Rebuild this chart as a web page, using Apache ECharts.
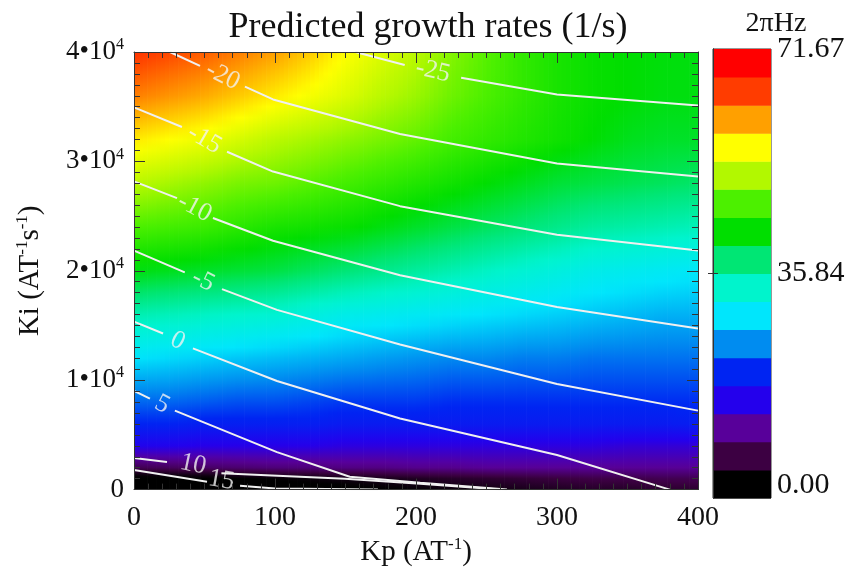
<!DOCTYPE html>
<html>
<head>
<meta charset="utf-8">
<script src="https://cdn.jsdelivr.net/npm/echarts@6/dist/echarts.min.js"></script>
<style>
  html, body { margin: 0; padding: 0; background: #ffffff; }
  #chart { width: 848px; height: 572px; }
</style>
</head>
<body>
<div id="chart"></div>
<script>
// ---- sample grid of the frequency map (2πHz) ----
const kpValues = [0, 25, 50, 75, 100, 125, 150, 175, 200, 225, 250, 275, 300, 325, 350, 375, 400];
const kiValues = [0, 1000, 2000, 4000, 6000, 8000, 12000, 16000, 20000, 24000, 28000, 32000, 36000, 40000];

// one row per Ki value, listed along kpValues
const freqKi0     = [0, 0, 0, 0, 0.5, 1, 1.5, 2, 2.5, 3, 3.5, 4, 4.5, 5, 5, 5.5, 5.5];
const freqKi1000  = [1, 1, 1.5, 2, 2.5, 3, 3.5, 4, 4.5, 5, 5.5, 6, 6.5, 7, 7, 7.5, 7.5];
const freqKi2000  = [7.5, 8, 8.5, 9, 9.5, 9.5, 10, 10, 10.5, 10.5, 11, 11, 11, 11, 11, 11, 11];
const freqKi4000  = [16, 16, 15.5, 15.5, 15.5, 15.5, 15, 15, 15, 15, 15, 15, 15, 15, 14.5, 14.5, 14.5];
const freqKi6000  = [20, 20, 19.5, 19.5, 19.5, 19.5, 19, 19, 19, 19, 19, 19, 19, 19, 19, 19, 19.5];
const freqKi8000  = [23, 23, 22.5, 22, 22, 21.5, 21, 21, 21, 20.5, 20.5, 20.5, 20.5, 20.5, 20.5, 20.5, 20.5];
const freqKi12000 = [29, 28.5, 28, 27.5, 27, 26.5, 26, 25.5, 25, 24.5, 24.5, 24, 24, 23.5, 23.5, 23.5, 23.5];
const freqKi16000 = [35, 34.5, 34, 33.5, 33, 32, 31, 30.5, 30, 29.5, 29, 28.5, 28, 27.5, 27, 26.5, 26.5];
const freqKi20000 = [42, 41.5, 41, 40.5, 40, 39, 38, 37, 36, 35, 34, 33, 32, 31, 30.5, 30, 29.5];
const freqKi24000 = [47, 46.5, 46, 45, 44, 43.5, 43, 42, 41, 40, 39, 38, 37, 36, 35.5, 35, 34.5];
const freqKi28000 = [52, 51, 50, 49, 48.5, 47.5, 46.5, 45.5, 44.5, 43.5, 42.5, 41.5, 40.5, 40, 39.5, 39, 38.5];
const freqKi32000 = [57, 56, 55, 53.5, 52, 51, 50, 49, 48, 46.5, 45.5, 44.5, 43.5, 42.5, 41.5, 41, 41];
const freqKi36000 = [62, 61, 60, 58.5, 57, 55.5, 54, 52, 50.5, 48.5, 47, 45.5, 44, 43, 42.5, 42, 42];
const freqKi40000 = [65.5, 64.5, 63.5, 62, 60.5, 58.5, 56, 54, 52, 49.5, 47.5, 45.5, 44, 43, 42.5, 42.2, 42];
const freqRows = [freqKi0, freqKi1000, freqKi2000, freqKi4000, freqKi6000, freqKi8000, freqKi12000, freqKi16000,
                  freqKi20000, freqKi24000, freqKi28000, freqKi32000, freqKi36000, freqKi40000];

// ---- growth-rate contours (1/s): [Kp, Ki] vertices, split where the label sits ----
const contourLevels = [-25, -20, -15, -10, -5, 0, 5, 10, 15];
const contourM25 = [[[157, 40000], [192, 38820]], [[232, 37650], [300, 36120], [400, 35110]]];
const contourM20 = [[[25.5, 40000], [46.8, 38735]], [[78.7, 36840], [98.6, 35665], [188.7, 32500], [300, 29800], [400, 28620]]];
const contourM15 = [[[0, 34940], [34, 33140]], [[66, 30880], [98.6, 29070], [188.7, 25910], [300, 23290], [400, 21850]]];
const contourM10 = [[[0, 28170], [30.5, 26640]], [[56, 24830], [98.6, 22750], [188.7, 19590], [300, 16700], [400, 14720]]];
const contourM5  = [[[0, 21850], [36, 19860]], [[62.4, 18330], [101.4, 16430], [188.7, 13270], [300, 9660], [400, 7220]]];
const contour0   = [[[0, 15350], [20.6, 14270]], [[41.8, 12910], [101.4, 9930], [188.7, 6500], [300, 3160], [380, 0]]];
const contour5   = [[[0, 9030], [11.3, 8310]], [[29, 7220], [101.4, 3430], [153, 1170], [203, 630], [264.5, 0]]];
const contour10  = [[[0, 2890], [23.4, 2530]], [[62, 1500], [149.6, 990], [203, 540], [259.6, 0]]];
const contour15  = [[[0, 1800], [51.8, 720]], [[75.2, 360], [100, 90], [173, 0]]];
const contourPaths = [contourM25, contourM20, contourM15, contourM10, contourM5, contour0, contour5, contour10, contour15];
// where each level's label is written, and its tilt along the line
const contourLabelAt = [[212, 38250], [63, 37800], [50, 32000], [43, 25750], [49, 19100], [31, 13600], [20, 7800], [42, 2300], [62, 850]];
const contourLabelTilt = [-13, -27, -30, -28, -26, -27, -27, -12, -10];

// ---- axis ticks ----
const kpTicks = [0, 100, 200, 300, 400];
const kiTicks = [0, 10000, 20000, 30000, 40000];
const colorbarTicks = [0, 35.84, 71.67];
const freqMax = 71.67;

// 16-level rainbow palette shown on the colour bar (black -> red)
const bandColors = ['#000000', '#3c0042', '#58009a', '#2400ec', '#0024f2', '#008cf0', '#00e6fc', '#00f4cc',
                    '#00e674', '#00de00', '#4cf000', '#b2f800', '#ffff00', '#ffa000', '#ff3c00', '#ff0000'];
const bandEdges = [0, 4.48, 8.96, 13.44, 17.92, 22.40, 26.88, 31.36, 35.84, 40.31, 44.79, 49.27, 53.75, 58.23, 62.71, 67.19, 71.67];

const FONT = 'Liberation Serif';
const INK = '#111111';

// continuous version of the palette, each level's colour at the middle of its band
function freqColor(v) {
  const n = bandColors.length;
  const step = freqMax / n;
  let t = (v / step - 0.5) / (n - 1);
  t = Math.max(0, Math.min(1, t));
  return echarts.color.lerp(t, bandColors);
}

const chart = echarts.init(document.getElementById('chart'), null, { renderer: 'canvas' });

const axisLineStyle = { color: '#333333', width: 1 };
function frameAxis(extra) {
  return Object.assign({
    type: 'value',
    z: 10,
    axisLine: { show: true, onZero: false, lineStyle: axisLineStyle },
    axisTick: { show: true, inside: true, length: 11, lineStyle: axisLineStyle },
    minorTick: { show: true, splitNumber: 10, length: 6, lineStyle: axisLineStyle },
    splitLine: { show: false },
    minorSplitLine: { show: false }
  }, extra);
}

const superRich = {
  n: { fontFamily: FONT, fontSize: 29, color: INK, lineHeight: 32 },
  s: { fontFamily: FONT, fontSize: 17, color: INK, lineHeight: 17, verticalAlign: 'top' }
};
const tickRich = {
  n: { fontFamily: FONT, fontSize: 27, color: INK, lineHeight: 30 },
  s: { fontFamily: FONT, fontSize: 16, color: INK, lineHeight: 16, verticalAlign: 'top' }
};

// smooth shading of the frequency table: each cell between two Kp samples is laid
// down as thin vertical slivers with a gradient running along Ki
const SLIVERS = 8;
const SUBSTEPS = 4;
const fieldSeries = {
  type: 'custom',
  xAxisIndex: 0,
  yAxisIndex: 0,
  silent: true,
  clip: true,
  z: 1,
  data: kpValues.slice(0, -1).map((kp, i) => [kp, kpValues[i + 1]]),
  encode: { x: [0, 1] },
  renderItem(params, api) {
    const i = params.dataIndex;
    const kiTop = kiValues[kiValues.length - 1];
    const kiBot = kiValues[0];
    const yTop = api.coord([0, kiTop])[1];
    const yBot = api.coord([0, kiBot])[1];
    const h = yBot - yTop;
    const children = [];
    for (let s = 0; s < SLIVERS; s++) {
      const f0 = s / SLIVERS, f1 = (s + 1) / SLIVERS, fm = (f0 + f1) / 2;
      const xA = api.coord([kpValues[i] + f0 * (kpValues[i + 1] - kpValues[i]), kiBot])[0];
      const xB = api.coord([kpValues[i] + f1 * (kpValues[i + 1] - kpValues[i]), kiBot])[0];
      const valAt = j => freqRows[j][i] * (1 - fm) + freqRows[j][i + 1] * fm;
      const stops = [];
      for (let j = kiValues.length - 1; j > 0; j--) {
        const ya = api.coord([0, kiValues[j]])[1];
        const yb = api.coord([0, kiValues[j - 1]])[1];
        const va = valAt(j), vb = valAt(j - 1);
        for (let q = 0; q < SUBSTEPS; q++) {
          const t = q / SUBSTEPS;
          stops.push({ offset: (ya + t * (yb - ya) - yTop) / h, color: freqColor(va + t * (vb - va)) });
        }
      }
      stops.push({ offset: 1, color: freqColor(valAt(0)) });
      children.push({
        type: 'rect',
        shape: { x: xA, y: yTop, width: xB - xA + 0.7, height: h },
        style: { fill: new echarts.graphic.LinearGradient(0, 0, 0, 1, stops) }
      });
    }
    return { type: 'group', children };
  }
};

const contourSeries = [];
contourPaths.forEach(segments => {
  segments.forEach(seg => {
    contourSeries.push({
      type: 'line',
      xAxisIndex: 0,
      yAxisIndex: 0,
      data: seg,
      symbol: 'none',
      silent: true,
      clip: true,
      z: 3,
      lineStyle: { color: '#f0f0f0', width: 2 }
    });
  });
});

const labelSeries = {
  type: 'scatter',
  xAxisIndex: 0,
  yAxisIndex: 0,
  symbolSize: 0,
  silent: true,
  z: 4,
  data: contourLevels.map((lv, k) => ({
    value: [contourLabelAt[k][0], contourLabelAt[k][1], lv],
    label: { rotate: contourLabelTilt[k] }
  })),
  label: {
    show: true,
    position: 'inside',
    formatter: p => String(p.value[2]),
    fontFamily: FONT,
    fontSize: 26,
    color: '#f2f2f2'
  }
};

// colour bar: one rectangle per palette level
const colorbarSeries = {
  type: 'custom',
  xAxisIndex: 2,
  yAxisIndex: 2,
  silent: true,
  z: 1,
  data: bandColors.map((c, k) => [k, bandEdges[k], bandEdges[k + 1]]),
  encode: { y: [1, 2] },
  renderItem(params, api) {
    const k = params.dataIndex;
    const lo = api.coord([0, bandEdges[k]]);
    const hi = api.coord([1, bandEdges[k + 1]]);
    return {
      type: 'rect',
      shape: { x: lo[0], y: hi[1], width: hi[0] - lo[0], height: lo[1] - hi[1] + 0.5 },
      style: { fill: bandColors[k] }
    };
  }
};

const option = {
  animation: false,
  backgroundColor: '#ffffff',
  title: [
    {
      text: 'Predicted growth rates (1/s)',
      left: 423, top: 5, textAlign: 'center',
      textStyle: { fontFamily: FONT, fontSize: 36, fontWeight: 'normal', color: INK }
    },
    {
      text: '2πHz',
      left: 771, top: 5, textAlign: 'center',
      textStyle: { fontFamily: FONT, fontSize: 28, fontWeight: 'normal', color: INK }
    }
  ],
  grid: [
    { left: 134, top: 52, width: 564, height: 443, show: false },
    { left: 713, top: 49, width: 58, height: 449, show: true, borderColor: '#333333', borderWidth: 1, backgroundColor: 'transparent' }
  ],
  xAxis: [
    frameAxis({
      gridIndex: 0, position: 'bottom', min: 0, max: 400, interval: 100,
      axisLabel: {
        show: true, margin: 14, fontFamily: FONT, fontSize: 28, color: INK,
        customValues: kpTicks, formatter: v => String(v)
      },
      name: '{n|Kp (AT}{s|-1}{n|)}',
      nameLocation: 'middle', nameGap: 41,
      nameTextStyle: { rich: superRich }
    }),
    frameAxis({
      gridIndex: 0, position: 'top', min: 0, max: 400, interval: 100,
      axisLabel: { show: false }
    }),
    {
      type: 'value', gridIndex: 1, min: 0, max: 1, show: false
    }
  ],
  yAxis: [
    frameAxis({
      gridIndex: 0, position: 'left', min: 0, max: 40000, interval: 10000,
      axisLabel: {
        show: true, margin: 10, customValues: kiTicks,
        formatter: v => (v === 0 ? '{n|0}' : '{n|' + (v / 10000) + '•10}{s|4}'),
        rich: tickRich
      },
      name: '{n|Ki (AT}{s|-1}{n|s}{s|-1}{n|)}',
      nameLocation: 'middle', nameRotate: 90, nameGap: 88,
      nameTextStyle: { rich: superRich }
    }),
    frameAxis({
      gridIndex: 0, position: 'right', min: 0, max: 40000, interval: 10000,
      axisLabel: { show: false }
    }),
    {
      type: 'value', gridIndex: 1, position: 'right', min: 0, max: freqMax, z: 10,
      axisLine: { show: true, lineStyle: axisLineStyle },
      axisTick: { show: true, inside: true, length: 5, customValues: [35.84], lineStyle: axisLineStyle },
      splitLine: { show: false },
      axisLabel: {
        show: true, margin: 6, customValues: colorbarTicks,
        formatter: v => (v === 0 ? '{lo|' + v.toFixed(2) + '}' : '{n|' + v.toFixed(2) + '}'),
        rich: {
          n: { fontFamily: FONT, fontSize: 30, color: INK },
          lo: { fontFamily: FONT, fontSize: 30, color: INK, padding: [0, 0, 26, 0] }
        }
      }
    },
    {
      type: 'value', gridIndex: 1, position: 'left', min: 0, max: freqMax, z: 10,
      axisLine: { show: true, lineStyle: axisLineStyle },
      axisTick: { show: true, inside: true, length: 5, customValues: [35.84], lineStyle: axisLineStyle },
      axisLabel: { show: false },
      splitLine: { show: false }
    }
  ],
  series: [fieldSeries].concat(contourSeries, [labelSeries, colorbarSeries])
};

chart.setOption(option);
</script>
</body>
</html>
